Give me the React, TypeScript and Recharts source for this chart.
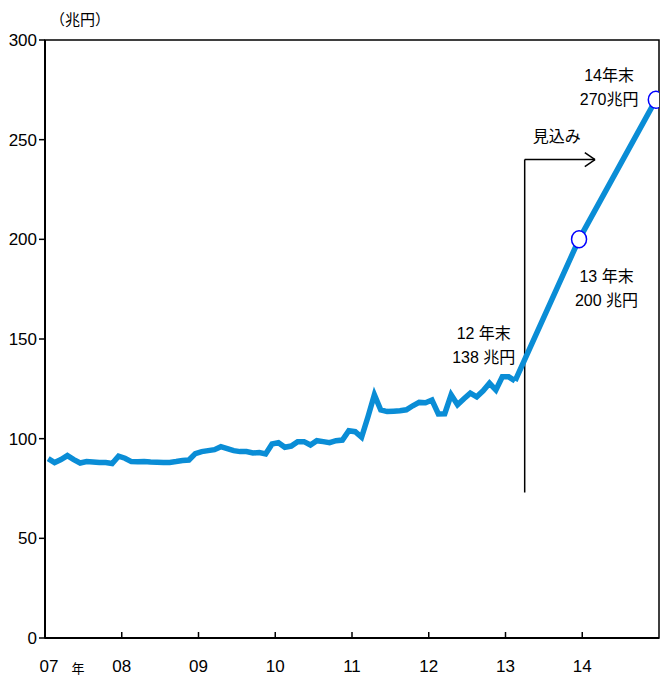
import React from 'react';
import {
  LineChart,
  Line,
  XAxis,
  YAxis,
  ReferenceLine,
  ReferenceArea,
  ReferenceDot,
} from 'recharts';

// months since Jan 2007 (0.5 = middle of the month)
const actualValues = [
  90, 88, 89.5, 91.5, 89.5, 87.8, 88.5, 88.3, 88, 88, 87.5, 91.2,
  90.2, 88.5, 88.4, 88.5, 88.3, 88.2, 88.1, 88.1, 88.5, 89, 89.3, 92.5,
  93.5, 94, 94.5, 96, 95, 94, 93.5, 93.5, 92.8, 93, 92.3, 97.3,
  98, 95.7, 96.3, 98.5, 98.5, 96.8, 99, 98.5, 98, 99, 99.3, 104,
  103.5, 100.7, 111, 122, 114.4, 113.6, 113.8, 114, 114.5, 116.5, 118.2, 118,
  119.4, 112.4, 112.5, 122, 117, 120, 122.8, 121, 124, 127.8, 124.4, 131,
  131, 129,
];

const actual = actualValues.map((v, i) => ({ m: i + 0.5, v }));

const projMonths = [73.5, 83.5, 95.5];
const projValues = [129, 200, 270];
const projection = projMonths.map((m, i) => ({ m, v: projValues[i] }));

const yearTicks = [0, 12, 24, 36, 48, 60, 72, 84];
const yearLabels = ['07', '08', '09', '10', '11', '12', '13', '14'];
const yTicks = [0, 50, 100, 150, 200, 250, 300];

const notes = [
  { x: 68.6, y: 153, lines: ['12 年末', '138 兆円'] },
  { x: 87.8, y: 181.6, lines: ['13 年末', '200 兆円'] },
  { x: 88.2, y: 282, lines: ['14年末', '270兆円'] },
  { x: 80.0, y: 251.4, lines: ['見込み'] },
];

const BLUE = '#0a8dd6';
const FONT = '"Liberation Sans", Arial, "Noto Sans CJK JP", sans-serif';

const XTick = (props: any) => {
  const { x, y, payload, index } = props;
  const label = yearLabels[yearTicks.indexOf(payload.value)];
  return (
    <g>
      {index > 0 && <line x1={x} x2={x} y1={y} y2={y - 6} stroke="#000" strokeWidth={1.5} />}
      <text x={x + (index === 0 ? 4 : 0)} y={y + 34} textAnchor="middle" fontSize={17} fill="#000" fontFamily={FONT}>
        {label}
      </text>
      {index === 0 && (
        <text x={x + 33} y={y + 35} textAnchor="middle" fontSize={13} fill="#000" fontFamily={FONT}>
          年
        </text>
      )}
    </g>
  );
};

const OpenDot = (props: any) => {
  const { cx, cy, index } = props;
  if (index === 0) return <g key={index} />;
  return <ellipse key={index} cx={cx} cy={cy} rx={7.5} ry={8.5} fill="#fff" stroke="#0000ff" strokeWidth={1.5} />;
};

const noteLabel = (lines: string[]) => (p: any) => {
  const vb = p.viewBox || {};
  const cx = vb.x + (vb.width || 0) / 2;
  const cy = vb.y + (vb.height || 0) / 2;
  return (
    <g>
      {lines.map((t, i) => (
        <text
          key={i}
          x={cx}
          y={cy + i * 24}
          textAnchor="middle"
          dominantBaseline="central"
          fontSize={16}
          fill="#000"
          fontFamily={FONT}
        >
          {t}
        </text>
      ))}
    </g>
  );
};

export default function App() {
  return (
    <div style={{ position: 'absolute', left: 0, top: 0, width: 661, height: 677, background: '#fff' }}>
      <div style={{ position: 'absolute', left: 50, top: 8, fontSize: 15, fontFamily: FONT }}>（兆円）</div>
      <LineChart width={661} height={677} margin={{ top: 40, right: 2, bottom: 0, left: 0 }}>
        <ReferenceArea x1={0} x2={96} y1={0} y2={300} fill="none" stroke="#000" strokeWidth={1.5} />
        <XAxis
          type="number"
          dataKey="m"
          domain={[0, 96]}
          ticks={yearTicks}
          height={39}
          tickSize={0}
          tickMargin={0}
          tickLine={false}
          axisLine={{ stroke: '#000', strokeWidth: 2 }}
          tick={<XTick />}
          allowDataOverflow
        />
        <YAxis
          type="number"
          domain={[0, 300]}
          ticks={yTicks}
          width={45}
          tickSize={6}
          tickMargin={2}
          tickLine={{ stroke: '#000', strokeWidth: 1.5 }}
          axisLine={{ stroke: '#000', strokeWidth: 2 }}
          tick={{ fill: '#000', fontSize: 17, fontFamily: FONT }}
        />
        <ReferenceLine segment={[{ x: 75, y: 73 }, { x: 75, y: 240 }]} stroke="#000" strokeWidth={1.5} />
        <ReferenceLine segment={[{ x: 75, y: 240 }, { x: 86, y: 240 }]} stroke="#000" strokeWidth={1.5} />
        <ReferenceLine segment={[{ x: 84.4, y: 243.5 }, { x: 86, y: 240 }]} stroke="#000" strokeWidth={1.5} />
        <ReferenceLine segment={[{ x: 84.4, y: 236.5 }, { x: 86, y: 240 }]} stroke="#000" strokeWidth={1.5} />
        <Line
          data={actual}
          dataKey="v"
          type="linear"
          stroke={BLUE}
          strokeWidth={5.5}
          dot={false}
          isAnimationActive={false}
        />
        <Line
          data={projection}
          dataKey="v"
          type="linear"
          stroke={BLUE}
          strokeWidth={5.5}
          dot={<OpenDot />}
          isAnimationActive={false}
        />
        {notes.map((n, i) => (
          <ReferenceDot key={i} x={n.x} y={n.y} r={1} fill="none" stroke="none" label={noteLabel(n.lines)} />
        ))}
      </LineChart>
    </div>
  );
}
